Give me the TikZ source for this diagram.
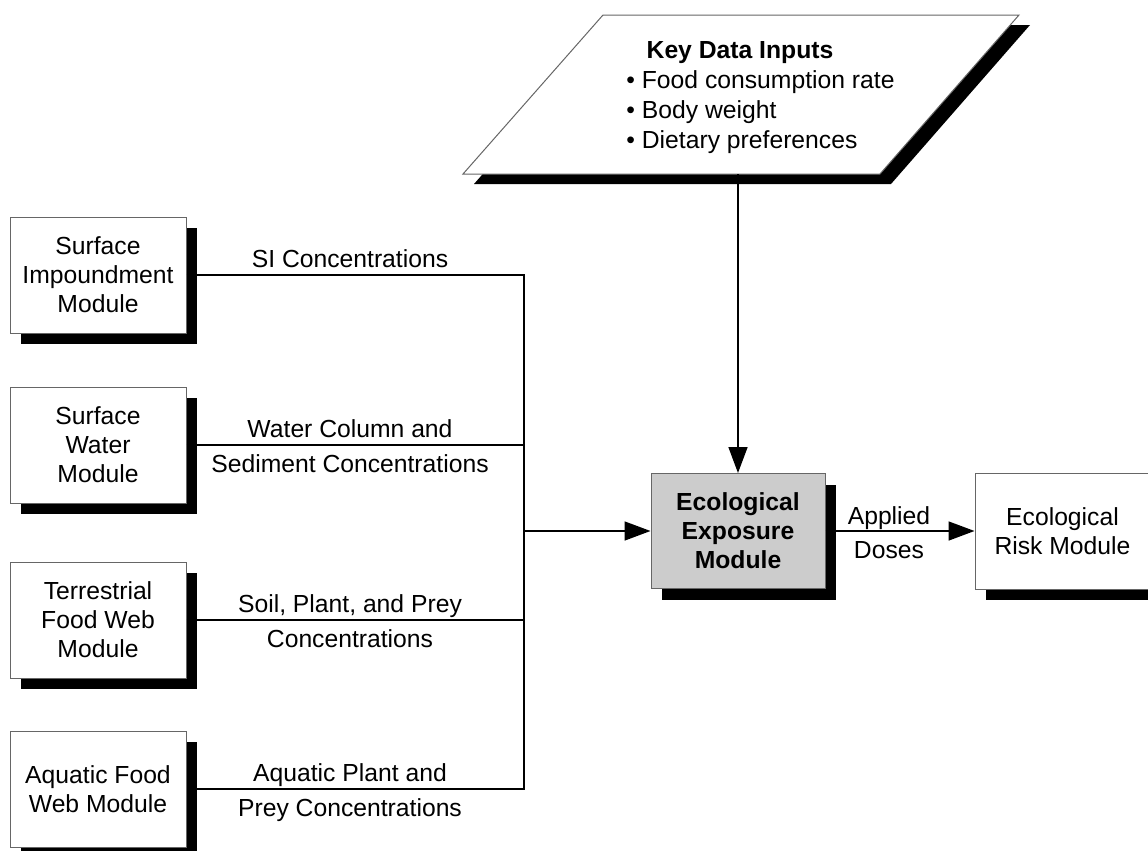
\documentclass[tikz,border=0pt]{standalone}
\usepackage{fontspec}
\setmainfont{Liberation Sans}
\usetikzlibrary{arrows.meta,shadows,calc}
\begin{document}
\begin{tikzpicture}[x=0.5pt,y=-0.5pt,
  font=\fontsize{12.35}{14.5}\selectfont,
  modbox/.style={draw=black!60, line width=0.5pt, fill=white,
    minimum width=88pt, minimum height=58pt, inner sep=0pt, align=center,
    drop shadow={shadow xshift=5.5pt, shadow yshift=-5.5pt, opacity=1, fill=black}},
  link/.style={line width=0.8pt},
  arr/.style={link, -{Triangle[length=13pt,width=9.5pt]}},
  lbl/.style={anchor=base, inner sep=0pt}
]
\useasboundingbox (0,0) rectangle (1148,851);

% Key data inputs parallelogram
\coordinate (pTL) at (603,15);
\coordinate (pTR) at (1019,15);
\coordinate (pBR) at (880,174);
\coordinate (pBL) at (463,174);
\fill[black] ([shift={(11,10)}]pTL) -- ([shift={(11,10)}]pTR) -- ([shift={(11,10)}]pBR) -- ([shift={(11,10)}]pBL) -- cycle;
\filldraw[fill=white, draw=black!60, line width=0.5pt] (pTL) -- (pTR) -- (pBR) -- (pBL) -- cycle;
\node[lbl, font=\fontsize{12.35}{14.5}\selectfont\bfseries] (kdi) at (740,58) {Key Data Inputs};
\node[anchor=west, align=left, inner sep=0pt, font=\fontsize{12.35}{15}\selectfont] (kdil) at (626,112)
  {• Food consumption rate\\• Body weight\\• Dietary preferences};
\coordinate (kdibot) at (738,174);

% connectors (drawn under boxes)
\coordinate (busx) at (524,0);
\coordinate (busmid) at (524,531);

% left module boxes
\node[modbox] (si) at (98,275) {Surface\\Impoundment\\Module};
\node[modbox] (sw) at (98,445) {Surface\\Water\\Module};
\node[modbox] (tfw) at (98,620) {Terrestrial\\Food Web\\Module};
\node[modbox] (afw) at (98,789) {Aquatic Food\\Web Module};

% center and right boxes
\node[modbox, fill=black!20, minimum width=87pt, minimum height=57.5pt,
  font=\fontsize{12.35}{14.5}\selectfont\bfseries] (eco) at (738,531) {Ecological\\Exposure\\Module};
\node[modbox, minimum width=87.5pt] (risk) at (1062.5,531) {Ecological\\Risk Module};

\draw[link] (si.east) -- (si.east -| busx) -- (afw.east -| busx) -- (afw.east);
\draw[link] (sw.east) -- (sw.east -| busx);
\draw[link] (tfw.east) -- (tfw.east -| busx);
\draw[arr] (busmid) -- (eco.west);
\draw[arr] (kdibot) -- (eco.north);
\draw[arr] (eco.east) -- (risk.west);

% labels
\node[lbl] (l1) at (350,267) {SI Concentrations};
\node[lbl] (l2a) at (350,437) {Water Column and};
\node[lbl] (l2b) at (350,472) {Sediment Concentrations};
\node[lbl] (l3a) at (350,612) {Soil, Plant, and Prey};
\node[lbl] (l3b) at (350,647) {Concentrations};
\node[lbl] (l4a) at (350,781) {Aquatic Plant and};
\node[lbl] (l4b) at (350,816) {Prey Concentrations};
\node[lbl] (l5a) at (889,524) {Applied};
\node[lbl] (l5b) at (889,558) {Doses};
\end{tikzpicture}
\end{document}
